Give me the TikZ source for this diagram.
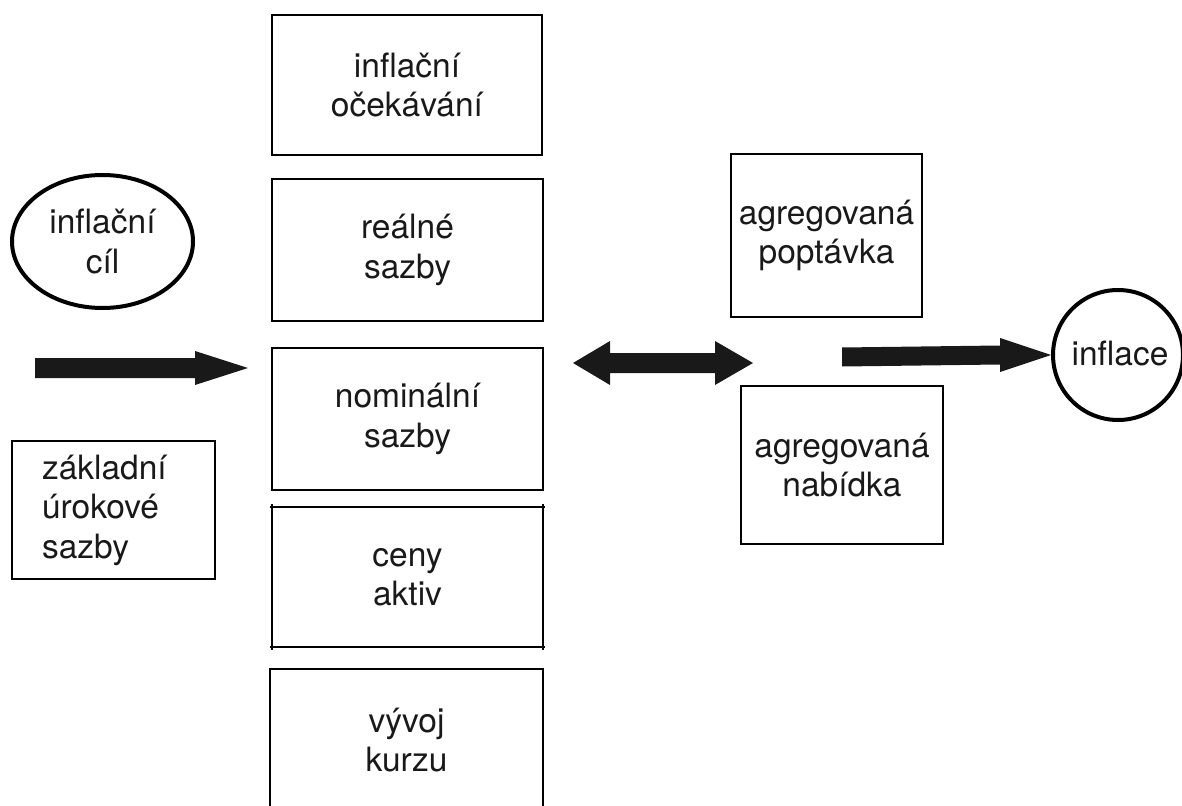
\documentclass[tikz,border=0pt]{standalone}
\usepackage{fontspec}
\setmainfont{TeX Gyre Heros}
\usetikzlibrary{calc,shapes.geometric}
\begin{document}
\begin{tikzpicture}[x=1pt,y=-1pt,
  txt/.style={font=\fontsize{33.5}{39.5}\selectfont, align=center, inner sep=0pt, text=black!90},
  box/.style={txt, draw, line width=2pt, rectangle},
  ring/.style={txt, draw, line width=4pt},
  fat/.style={fill=black!90}]
\useasboundingbox (0,0) rectangle (1182,805);
\clip (0,0) rectangle (1182,805);

% middle column
\node[box, minimum width=270pt, minimum height=140pt] (ocek) at (407,85) {inflační\\očekávání};
\node[box, minimum width=271pt, minimum height=142pt] (real) at (407.5,250) {reálné\\sazby};
\node[box, minimum width=271pt, minimum height=142pt] (nom) at (407.5,419) {nominální\\sazby};
\node[txt, minimum width=271pt, minimum height=140pt] (ceny) at (407.5,577) {ceny\\aktiv};
\draw[line width=2pt] ($(ceny.north west)+(-2,0)$) -- ($(ceny.north east)+(2,0)$);
\draw[line width=2pt] ($(ceny.south west)+(-2,0)$) -- ($(ceny.south east)+(2,0)$);
\draw[line width=2pt] ($(ceny.north west)+(0,-3)$) -- ($(ceny.south west)+(0,3)$);
\draw[line width=2pt] ($(ceny.north east)+(0,-3)$) -- ($(ceny.south east)+(0,3)$);
\node[box, minimum width=273pt, minimum height=142pt] (kurz) at (406.5,740) {vývoj\\kurzu};

% left
\node[ring, ellipse, minimum width=181pt, minimum height=133pt] (cil) at (102.5,241.5) {inflační\\cíl};
\node[box, minimum width=203pt, minimum height=138pt, align=left, text width=143pt, inner xsep=30pt] (zakl) at (113.5,510) {základní\\úrokové\\sazby};

% right
\node[box, minimum width=191pt, minimum height=163pt] (popt) at (826.5,235.5) {agregovaná\\poptávka};
\node[box, minimum width=202pt, minimum height=158pt] (nab) at (842,465) {agregovaná\\nabídka};
\node[ring, circle, minimum size=130pt] (infl) at (1118,355) {};
\node[txt] (infltxt) at (1120,353) {inflace};

% fat arrows
\coordinate (l1) at (35,368);
\coordinate (l2) at (248,368);
\fill[fat] ($(l1)+(0,-10)$) -- ($(l2)+(-53,-10)$) -- ($(l2)+(-53,-17)$) -- (l2)
  -- ($(l2)+(-53,17)$) -- ($(l2)+(-53,10)$) -- ($(l1)+(0,10)$) -- cycle;

\coordinate (d1) at (573,363);
\coordinate (d2) at (753,363);
\fill[fat] (d1) -- ($(d1)+(37,-22)$) -- ($(d1)+(37,-10)$) -- ($(d2)+(-38,-10)$)
  -- ($(d2)+(-38,-22)$) -- (d2) -- ($(d2)+(-38,22)$) -- ($(d2)+(-38,10)$)
  -- ($(d1)+(37,10)$) -- ($(d1)+(37,22)$) -- cycle;

\coordinate (r1) at (842,357);
\fill[fat] ($(r1)+(0,-9.5)$) -- ($(infl.west)+(-51,-9.5)$) -- ($(infl.west)+(-51,-17)$) -- (infl.west)
  -- ($(infl.west)+(-51,17)$) -- ($(infl.west)+(-51,9.5)$) -- ($(r1)+(0,9.5)$) -- cycle;
\end{tikzpicture}
\end{document}
